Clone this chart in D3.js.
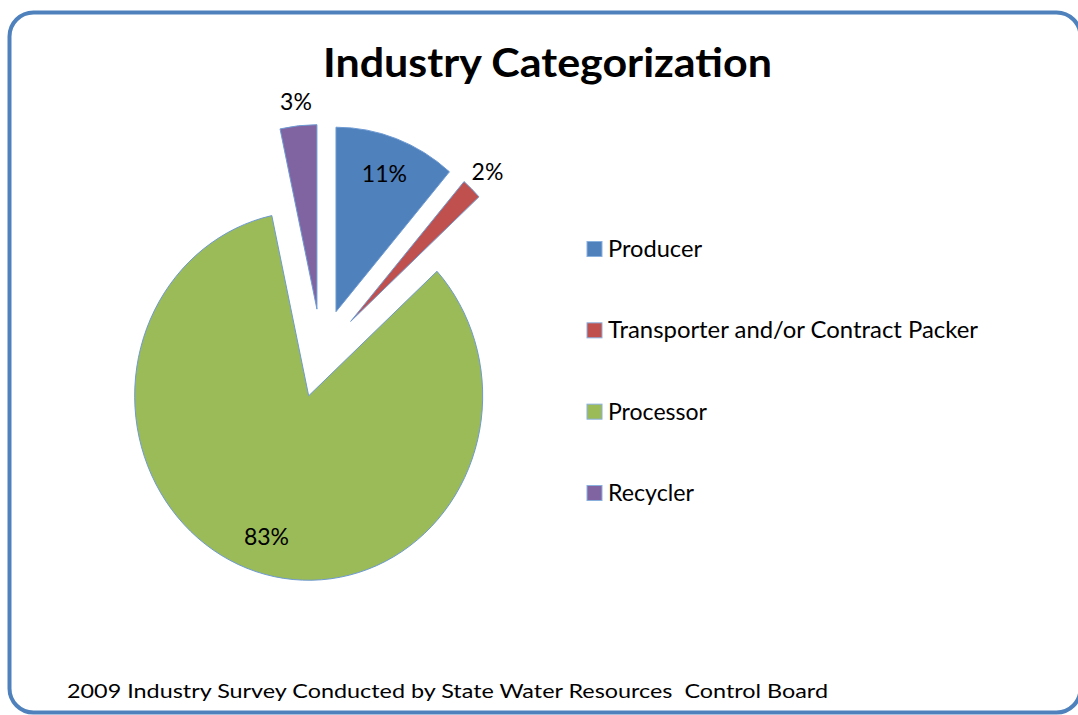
<!DOCTYPE html>
<html><head><meta charset="utf-8">
<script src="https://cdn.jsdelivr.net/npm/d3@7"></script>
<style>html,body{margin:0;padding:0;background:#fff;} svg{display:block;}</style>
</head><body><svg id="c" width="1078" height="715"></svg>
<script>
const categories = ["Producer", "Transporter and/or Contract Packer", "Processor", "Recycler"];
const values = [11.3, 1.9, 83.4, 3.4];
const colors = ["#4F81BD", "#C0504D", "#9BBB59", "#8064A2"];
const titleText = "Industry Categorization";
const footerText = "2009 Industry Survey Conducted by State Water Resources  Control Board";

const svg = d3.select("#c");
const FONT = "Lato, 'Open Sans', sans-serif";

function fit(sel, w) {
  sel.attr("textLength", w).attr("lengthAdjust", "spacingAndGlyphs");
}

// frame
svg.append("rect").attr("x", 9.5).attr("y", 12.5).attr("width", 1071).attr("height", 700)
  .attr("rx", 24).attr("ry", 24).attr("fill", "#fff").attr("stroke", "#4F81BD").attr("stroke-width", 4);

// title
svg.append("text").attr("x", 547.5).attr("y", 77).attr("text-anchor", "middle")
  .style("font-family", FONT).style("font-weight", 700).style("font-size", "40px").attr("fill", "#000")
  .text(titleText).call(fit, 449);

// pie
const cx = 321.4, cy = 353.4, R = 174, explode = 42, sy = 1.06;
const total = d3.sum(values);
const pie = d3.pie().sort(null).value(d => d);
const arcs = pie(values);
const arc = d3.arc().innerRadius(0).outerRadius(R);
const g = svg.append("g").attr("transform", `translate(${cx},${cy}) scale(1,${sy})`);
g.selectAll("path").data(arcs).join("path")
  .attr("transform", d => {
    const m = (d.startAngle + d.endAngle) / 2;
    return `translate(${explode * Math.sin(m)},${-explode * Math.cos(m)})`;
  })
  .attr("d", arc)
  .attr("fill", (d, i) => colors[i])
  .attr("stroke", "#6E9AD3").attr("stroke-width", 1).attr("vector-effect", "non-scaling-stroke");

// data labels
const fmt = v => Math.round(v / total * 100) + "%";
const labR = d => d.value / total >= 0.05 ? explode + 0.8 * R : explode + 1.13 * R;
const mid = d => (d.startAngle + d.endAngle) / 2;
svg.selectAll("text.lbl").data(arcs).join("text").attr("class", "lbl")
  .attr("x", d => cx + labR(d) * Math.sin(mid(d)))
  .attr("y", d => cy - labR(d) * Math.cos(mid(d)) * sy)
  .attr("dy", "0.36em")
  .attr("text-anchor", "middle")
  .style("font-family", FONT).style("font-size", "23px").attr("fill", "#000")
  .text(d => fmt(d.value));

// legend
const ly = d3.scalePoint().domain(categories).range([257, 501]);
const leg = svg.selectAll("g.leg").data(categories).join("g").attr("class", "leg");
leg.append("rect").attr("x", 587).attr("y", d => ly(d) - 15.5).attr("width", 15).attr("height", 15)
  .attr("fill", (d, i) => colors[i]).attr("stroke", "#8AB0DE").attr("stroke-width", 1);
const legW = [94, 370, 99, 86];
leg.append("text").attr("x", 608).attr("y", d => ly(d))
  .style("font-family", FONT).style("font-size", "23px").attr("fill", "#000")
  .text(d => d).each(function(d, i) { d3.select(this).call(fit, legW[i]); });

// footer
svg.append("text").attr("x", 67).attr("y", 698).attr("xml:space", "preserve").style("white-space", "pre")
  .style("font-family", FONT).style("font-size", "19.5px").attr("fill", "#000")
  .text(footerText).call(fit, 761);
</script></body></html>
